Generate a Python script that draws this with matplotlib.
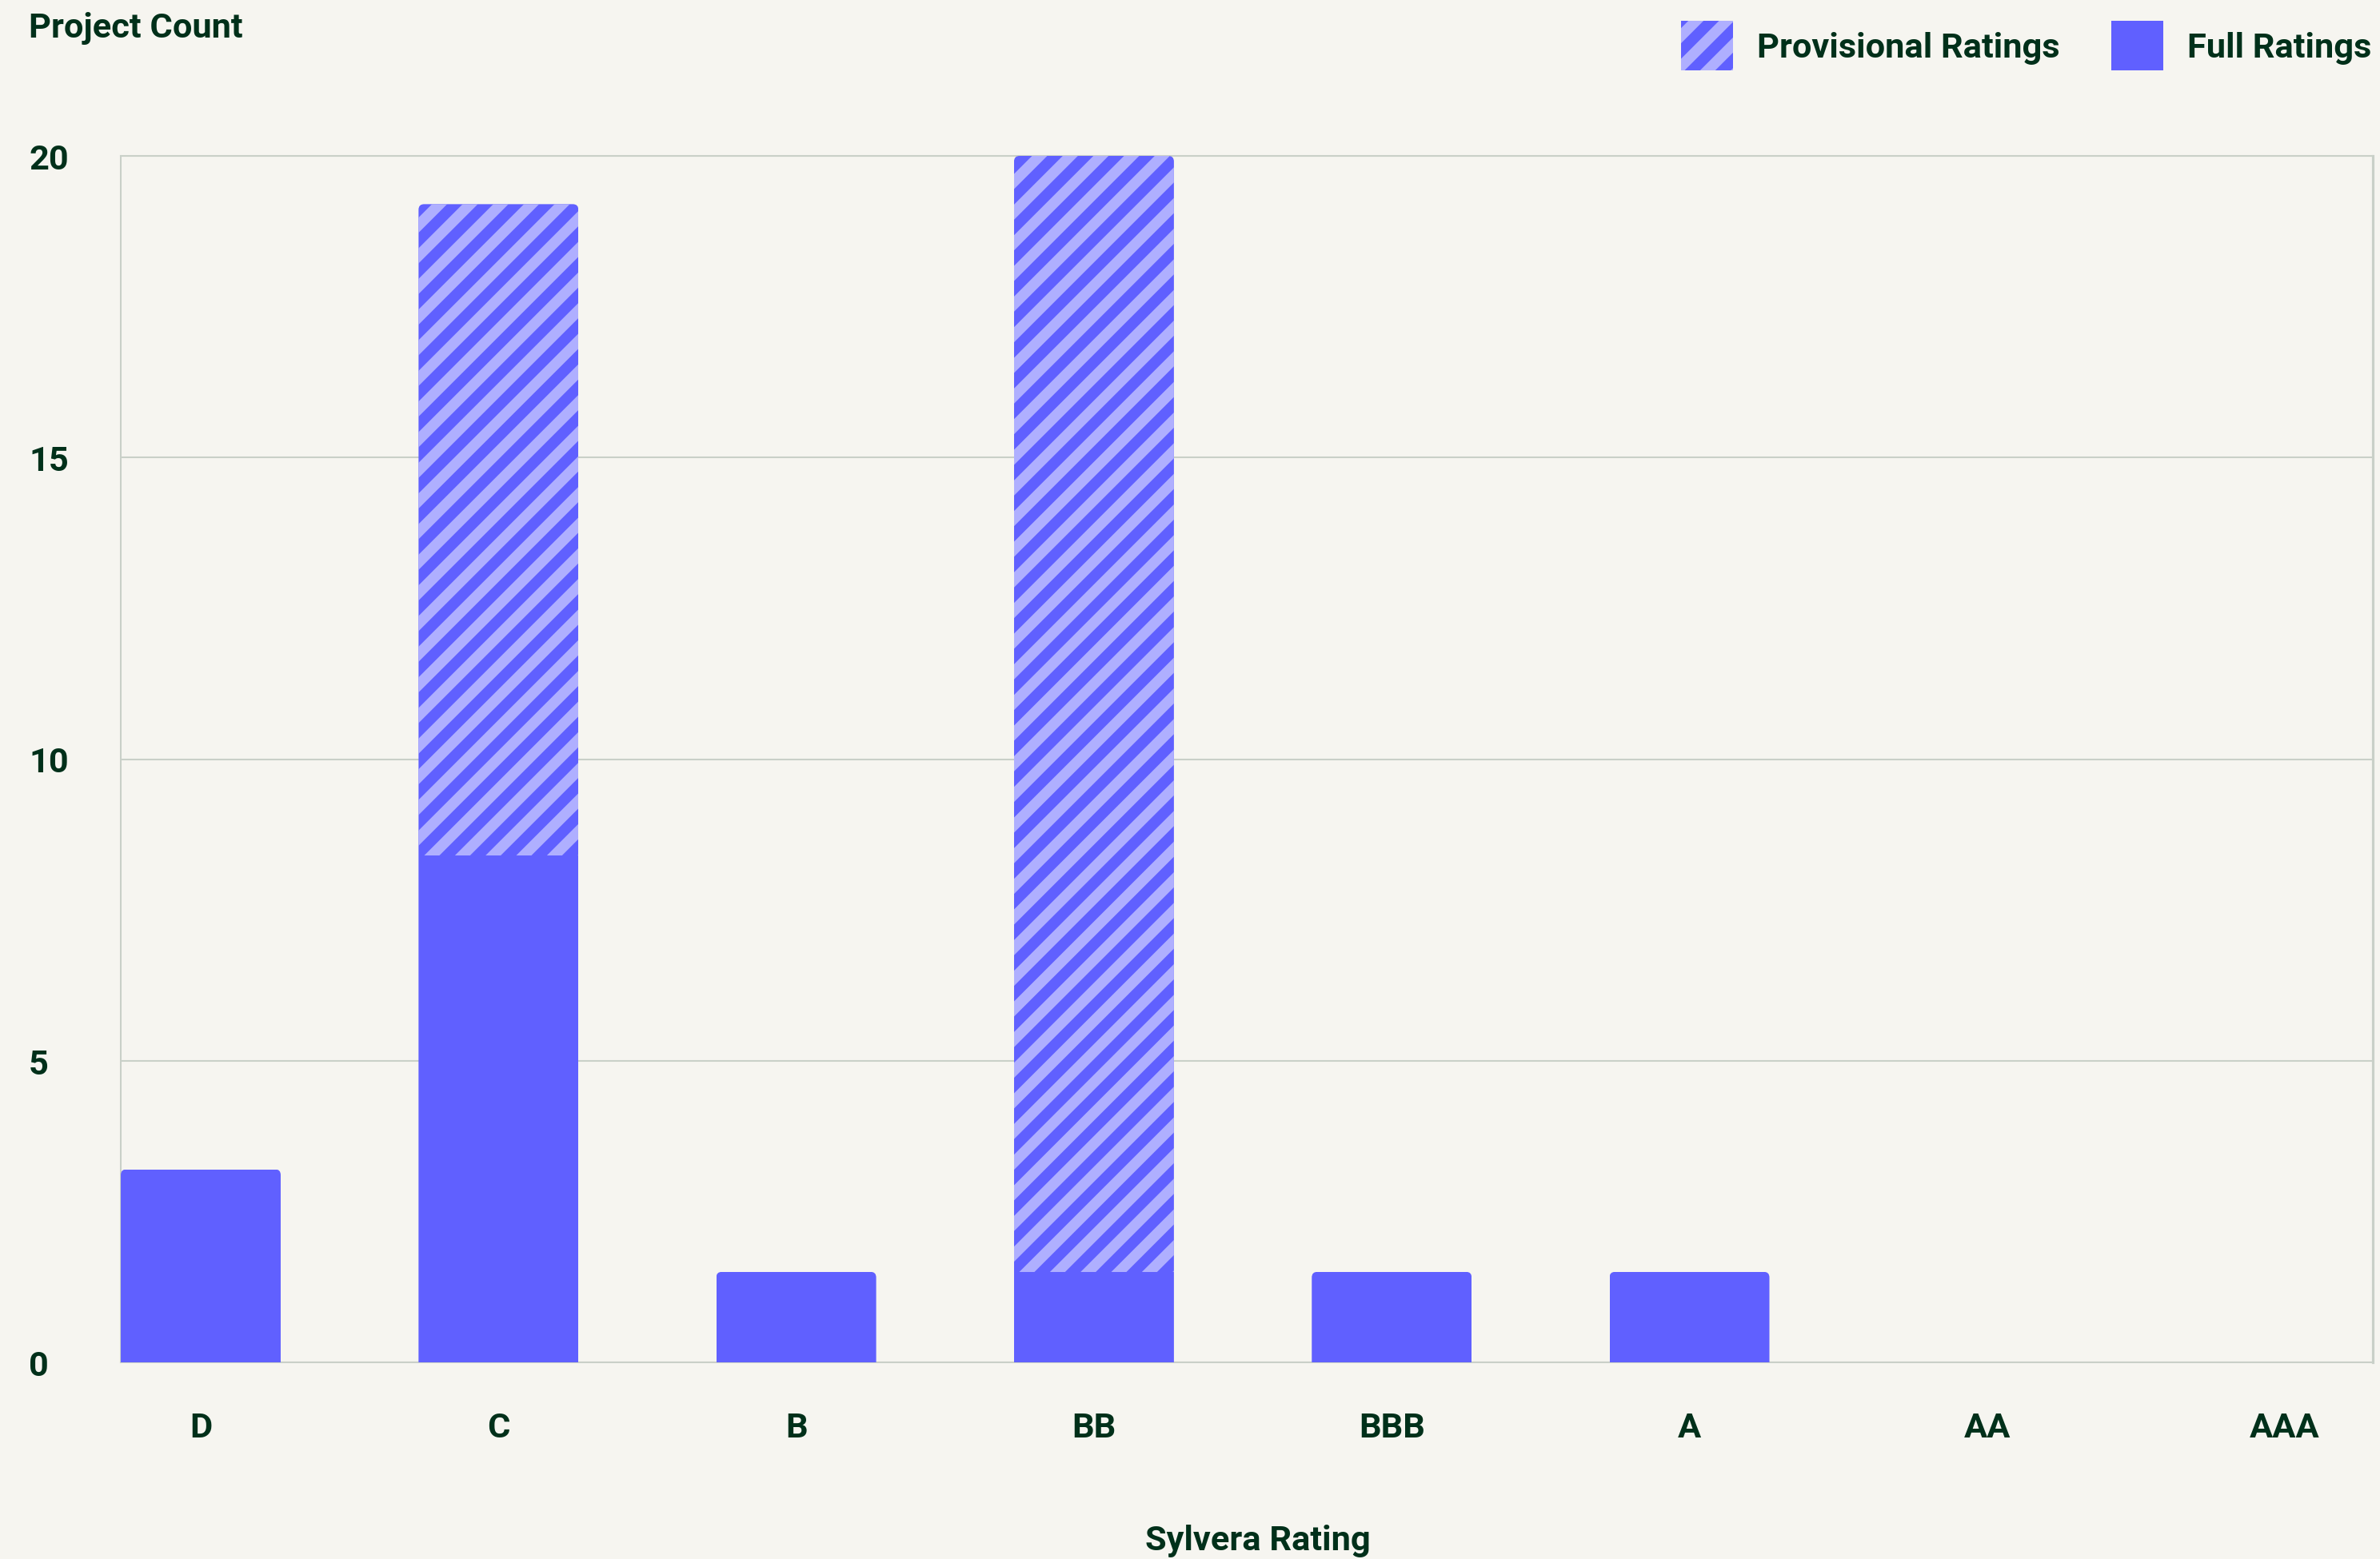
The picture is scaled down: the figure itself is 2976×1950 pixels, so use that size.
import matplotlib
matplotlib.use('Agg')
import matplotlib.pyplot as plt
from matplotlib.patches import FancyBboxPatch, Patch
import numpy as np

# ---- data ----
categories = ['D', 'C', 'B', 'BB', 'BBB', 'A', 'AA', 'AAA']
full_ratings = [3.2, 8.4, 1.5, 1.5, 1.5, 1.5, 0, 0]
provisional_ratings = [0, 10.8, 0, 18.5, 0, 0, 0, 0]
y_ticks = [0, 5, 10, 15, 20]
legend_labels = ['Provisional Ratings', 'Full Ratings']
x_label = 'Sylvera Rating'
y_label = 'Project Count'

# ---- style ----
DPI = 230
W, H = 2976, 1951
plt.rcParams['font.family'] = ['Roboto', 'DejaVu Sans']
plt.rcParams['hatch.linewidth'] = 4.2
BG = '#F6F5F0'
TEXT = '#00301A'
GRID = '#C9D0C8'
DARK = '#6060FF'
LIGHT = '#AFAFFF'
FS = 13.6
WEIGHT = 'bold'
HATCH = '//'

fig = plt.figure(figsize=(W / DPI, H / DPI), dpi=DPI, facecolor=BG)
ax_l, ax_r, ax_t, ax_b = 151, 2967, 196, 1705
ax = fig.add_axes([ax_l / W, 1 - ax_b / H, (ax_r - ax_l) / W, (ax_b - ax_t) / H])
ax.set_facecolor(BG)

x = np.arange(len(categories))
width = 0.537
ax.set_xlim(-0.2686, 7.295)
ax.set_ylim(0, 20)

full_bars = ax.bar(x, full_ratings, width, color=DARK, linewidth=0, zorder=3)
prov_bars = ax.bar(x, provisional_ratings, width, bottom=full_ratings,
                   facecolor=DARK, edgecolor=LIGHT, hatch=HATCH, linewidth=0, zorder=3)

# rounded top corners via clip paths
px_per_x = (ax_r - ax_l) / (7.295 + 0.2686)
px_per_y = (ax_b - ax_t) / 20.0
r_px = 7
for i in range(len(categories)):
    total = full_ratings[i] + provisional_ratings[i]
    if total <= 0:
        continue
    clip = FancyBboxPatch((x[i] - width / 2, -1), width, total + 1,
                          boxstyle=f"round,pad=0,rounding_size={r_px / px_per_x}",
                          mutation_aspect=px_per_x / px_per_y,
                          transform=ax.transData, facecolor='none', edgecolor='none')
    full_bars[i].set_clip_path(clip)
    prov_bars[i].set_clip_path(clip)

# grid / spines
ax.set_axisbelow(True)
ax.yaxis.grid(True, color=GRID, linewidth=0.65)
ax.xaxis.grid(False)
for s in ax.spines.values():
    s.set_color(GRID)
    s.set_linewidth(0.65)
ax.spines['right'].set_linewidth(1.0)

ax.set_yticks(y_ticks)
ax.set_yticklabels([str(v) for v in y_ticks])
ax.tick_params(axis='y', length=0, pad=36, labelsize=FS, labelcolor=TEXT)
for lbl in ax.get_yticklabels():
    lbl.set_horizontalalignment('left')
    lbl.set_fontweight(WEIGHT)

ax.set_xticks(x)
ax.set_xticklabels(categories)
ax.tick_params(axis='x', length=0, pad=19, labelsize=FS, labelcolor=TEXT)
for lbl in ax.get_xticklabels():
    lbl.set_fontweight(WEIGHT)

ax.set_xlabel(x_label, fontsize=FS, color=TEXT, fontweight=WEIGHT, va='center')
ax.xaxis.set_label_coords((1573 - ax_l) / (ax_r - ax_l), (ax_b - 1928) / (ax_b - ax_t))

fig.text(36 / W, 1 - 47 / H, y_label, fontsize=FS, color=TEXT, fontweight=WEIGHT,
         ha='left', va='baseline')

fs_px = FS * DPI / 72
hh = (62 / fs_px - 0.245) / 0.65
handles = [Patch(facecolor=DARK, edgecolor=LIGHT, hatch=HATCH, linewidth=0),
           Patch(facecolor=DARK, linewidth=0)]
leg = fig.legend(handles, legend_labels, loc='center right',
                 bbox_to_anchor=(2965 / W, 1 - 58 / H), ncol=2, frameon=False,
                 fontsize=FS, handlelength=65 / fs_px, handleheight=hh,
                 handletextpad=30 / fs_px, columnspacing=64 / fs_px,
                 borderpad=0, borderaxespad=0)
for t in leg.get_texts():
    t.set_color(TEXT)
    t.set_fontweight(WEIGHT)

fig.savefig('out.png', dpi=DPI, facecolor=BG)
